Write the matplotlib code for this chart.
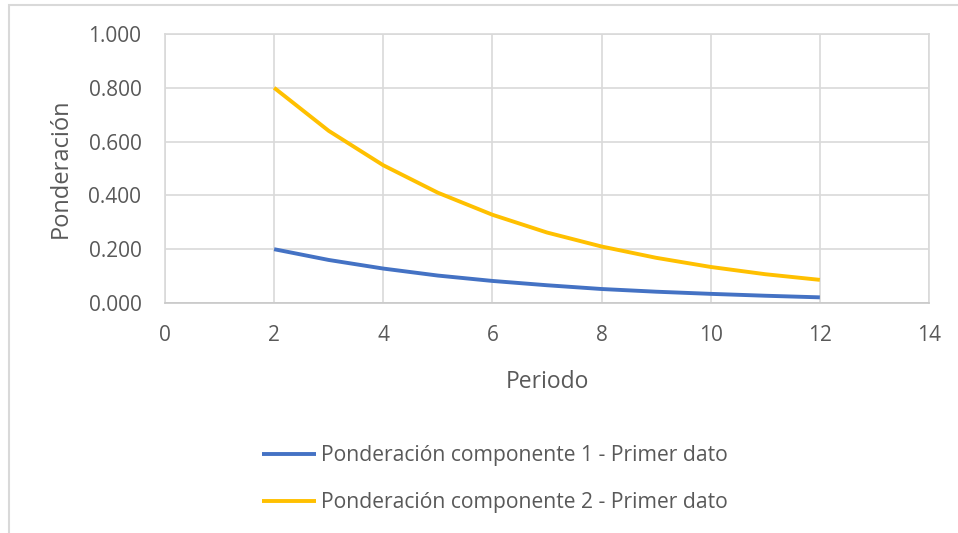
import matplotlib
matplotlib.use("Agg")
import matplotlib.pyplot as plt
from matplotlib.patches import Rectangle

plt.rcParams['font.family'] = ['Open Sans', 'DejaVu Sans']

# datos
periodo = [2, 3, 4, 5, 6, 7, 8, 9, 10, 11, 12]
comp1 = [0.200, 0.160, 0.128, 0.102, 0.082, 0.066, 0.052, 0.042, 0.034, 0.027, 0.021]
comp2 = [0.800, 0.640, 0.512, 0.410, 0.328, 0.262, 0.210, 0.168, 0.134, 0.107, 0.086]
labels = ["Ponderación componente 1 - Primer dato",
          "Ponderación componente 2 - Primer dato"]
x_ticks = [0, 2, 4, 6, 8, 10, 12, 14]
y_ticks = [0.0, 0.2, 0.4, 0.6, 0.8, 1.0]

W, H = 958, 533
fig = plt.figure(figsize=(W / 100, H / 100), dpi=100)

# marco exterior del grafico
fig.patches.append(Rectangle((9 / W, -0.05), 1.2, 1 - 5 / H + 0.05,
                             transform=fig.transFigure, fill=False,
                             edgecolor="#D9D9D9", linewidth=1.5))

ax = fig.add_axes([165 / W, 1 - 303 / H, (929 - 165) / W, (303 - 34) / H])

ax.plot(periodo, comp1, color="#4472C4", linewidth=2.8, label=labels[0],
        solid_capstyle="butt", solid_joinstyle="round")
ax.plot(periodo, comp2, color="#FFC000", linewidth=2.8, label=labels[1],
        solid_capstyle="butt", solid_joinstyle="round")

ax.set_xlim(0, 14)
ax.set_ylim(0, 1)
ax.set_xticks(x_ticks)
ax.set_yticks(y_ticks)
ax.set_yticklabels([f"{v:.3f}" for v in y_ticks])
ax.grid(True, color="#D9D9D9", linewidth=1.2)
ax.set_axisbelow(True)
for s in ax.spines.values():
    s.set_color("#D9D9D9")
    s.set_linewidth(1.2)
ax.spines["bottom"].set_color("#C8C8C8")

ax.tick_params(axis="both", length=0, labelsize=15, labelcolor="#595959")
ax.tick_params(axis="y", pad=17)
ax.tick_params(axis="x", pad=16)

ax.set_xlabel("Periodo", fontsize=16.5, color="#595959", labelpad=17)
ax.set_ylabel("Ponderación", fontsize=17, color="#595959", labelpad=11)

leg = fig.legend(loc="upper left", bbox_to_anchor=(262 / W, 1 - 445 / H),
                 bbox_transform=fig.transFigure, ncol=1, frameon=False,
                 fontsize=15.2, handlelength=2.55, handletextpad=0.25,
                 labelspacing=1.25, labelcolor="#595959", borderaxespad=0,
                 borderpad=0)

fig.savefig("out.png", dpi=100)
